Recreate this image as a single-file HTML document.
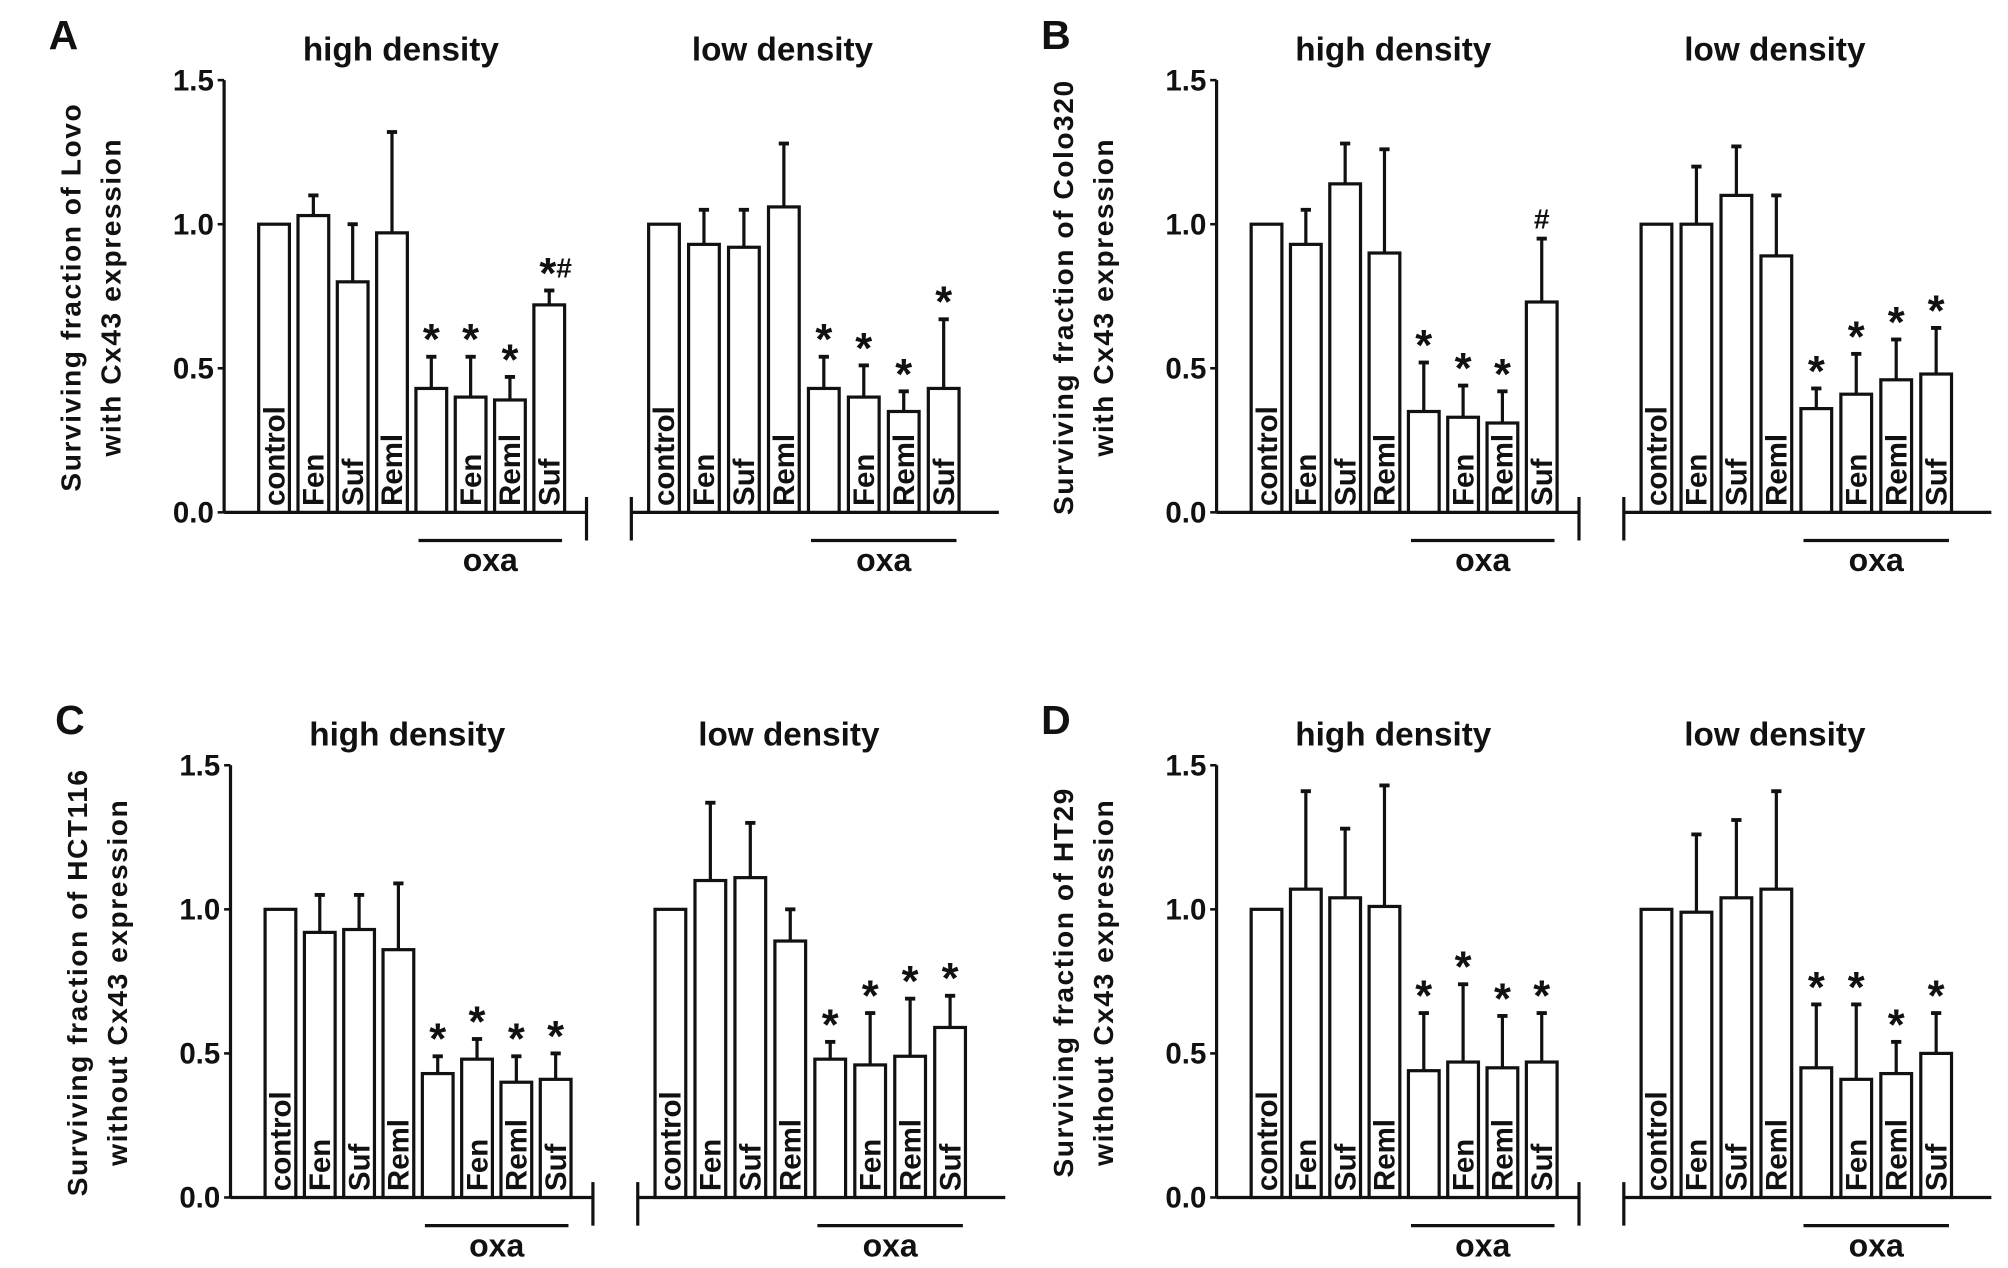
<!DOCTYPE html>
<html><head><meta charset="utf-8"><style>
html,body{margin:0;padding:0;background:#fff}
svg{display:block}
text{font-family:"Liberation Sans Narrow","Liberation Sans",sans-serif;font-weight:bold;fill:#111}
</style></head><body>
<svg id="chart" width="2008" height="1268" viewBox="0 0 1568 990" xmlns="http://www.w3.org/2000/svg"></svg>
<script>
const categories = ["control","Fen","Suf","Reml","","Fen","Reml","Suf"];
const yTicks = [0.0, 0.5, 1.0, 1.5];
const yTickLabels = ["0.0","0.5","1.0","1.5"];
const panelLetters = ["A","B","C","D"];
const yLabels1 = ["Surviving fraction of Lovo","Surviving fraction of Colo320","Surviving fraction of HCT116","Surviving fraction of HT29"];
const yLabels2 = ["with Cx43 expression","with Cx43 expression","without Cx43 expression","without Cx43 expression"];
const subTitles = ["high density","low density"];
const aHighMean = [1.0,1.03,0.80,0.97,0.43,0.40,0.39,0.72];
const aHighTop  = [1.0,1.10,1.0,1.32,0.54,0.54,0.47,0.77];
const aLowMean  = [1.0,0.93,0.92,1.06,0.43,0.40,0.35,0.43];
const aLowTop   = [1.0,1.05,1.05,1.28,0.54,0.51,0.42,0.67];
const bHighMean = [1.0,0.93,1.14,0.90,0.35,0.33,0.31,0.73];
const bHighTop  = [1.0,1.05,1.28,1.26,0.52,0.44,0.42,0.95];
const bLowMean  = [1.0,1.0,1.10,0.89,0.36,0.41,0.46,0.48];
const bLowTop   = [1.0,1.20,1.27,1.10,0.43,0.55,0.60,0.64];
const cHighMean = [1.0,0.92,0.93,0.86,0.43,0.48,0.40,0.41];
const cHighTop  = [1.0,1.05,1.05,1.09,0.49,0.55,0.49,0.50];
const cLowMean  = [1.0,1.10,1.11,0.89,0.48,0.46,0.49,0.59];
const cLowTop   = [1.0,1.37,1.30,1.00,0.54,0.64,0.69,0.70];
const dHighMean = [1.0,1.07,1.04,1.01,0.44,0.47,0.45,0.47];
const dHighTop  = [1.0,1.41,1.28,1.43,0.64,0.74,0.63,0.64];
const dLowMean  = [1.0,0.99,1.04,1.07,0.45,0.41,0.43,0.50];
const dLowTop   = [1.0,1.26,1.31,1.41,0.67,0.67,0.54,0.64];
const aHighMarks = ["","","","","*","*","*","*#"];
const aLowMarks  = ["","","","","*","*","*","*"];
const bHighMarks = ["","","","","*","*","*","#"];
const stdMarks   = ["","","","","*","*","*","*"];

const NS="http://www.w3.org/2000/svg";
const svg=document.getElementById('chart');
function mk(tag,attrs,parent){const e=document.createElementNS(NS,tag);for(const k in attrs)e.setAttribute(k,attrs[k]);(parent||svg).appendChild(e);return e;}

const panels=[
 {x0:175,y0:400,sets:[[aHighMean,aHighTop,aHighMarks],[aLowMean,aLowTop,aLowMarks]]},
 {x0:950,y0:400,sets:[[bHighMean,bHighTop,bHighMarks],[bLowMean,bLowTop,stdMarks]]},
 {x0:180,y0:935,sets:[[cHighMean,cHighTop,stdMarks],[cLowMean,cLowTop,stdMarks]]},
 {x0:950,y0:935,sets:[[dHighMean,dHighTop,stdMarks],[dLowMean,dLowTop,stdMarks]]}
];
const PXU=225;
panels.forEach((p,pi)=>{
  const g=mk('g',{});
  
  
  const ys=v=>p.y0-v*PXU;
  const x0=p.x0,y0=p.y0;
  const L=mk('text',{x:x0-137,y:y0-362,'font-size':32,'font-family':'Liberation Sans'},g);L.textContent=panelLetters[pi];
  
  
  const yl=mk('text',{transform:`translate(${x0-112},${y0-168}) rotate(-90)`,'text-anchor':'middle','font-size':22,'font-family':'Liberation Sans','letter-spacing':'1.2'},g);
  
  
  const t1=mk('tspan',{x:0,y:0},yl);t1.textContent=yLabels1[pi];
  const t2=mk('tspan',{x:0,y:31},yl);t2.textContent=yLabels2[pi];
  const ya=mk('line',{x1:x0,y1:ys(1.5),x2:x0,y2:y0,stroke:'#111','stroke-width':2.5},g);
  
  
  yTicks.forEach((v,i)=>{
    mk('line',{x1:x0-5,y1:ys(v),x2:x0,y2:ys(v),stroke:'#111','stroke-width':2},g);
    const t=mk('text',{x:x0-8,y:ys(v)+8,'text-anchor':'end','font-size':23},g);t.textContent=yTickLabels[i];
    
    
  });
  mk('line',{x1:x0,y1:y0,x2:x0+283,y2:y0,stroke:'#111','stroke-width':2.5},g);
  mk('line',{x1:x0+283,y1:y0-12,x2:x0+283,y2:y0+22,stroke:'#111','stroke-width':2.5},g);
  mk('line',{x1:x0+318,y1:y0-12,x2:x0+318,y2:y0+22,stroke:'#111','stroke-width':2.5},g);
  mk('line',{x1:x0+318,y1:y0,x2:x0+605,y2:y0,stroke:'#111','stroke-width':2.5},g);
  p.sets.forEach((s,si)=>{
    const [mean,top,marks]=s;
    const start= si===0 ? 39 : 343.5;
    const step= si===0 ? 30.7 : 31.2;
    const tt=mk('text',{x:x0+(si===0?138:436),y:y0-353,'text-anchor':'middle','font-size':26},g);tt.textContent=subTitles[si];
    
    
    mean.forEach((v,i)=>{
      const cx=x0+start+step*i, w=24;
      if(top[i]>v){
        mk('line',{x1:cx,y1:ys(v),x2:cx,y2:ys(top[i]),stroke:'#111','stroke-width':2.5},g);
        mk('line',{x1:cx-4,y1:ys(top[i]),x2:cx+4,y2:ys(top[i]),stroke:'#111','stroke-width':3},g);
      }
      const r=mk('rect',{x:cx-w/2,y:ys(v),width:w,height:v*PXU,fill:'#fff',stroke:'#111','stroke-width':2.5},g);
      
      
      if(categories[i]){
        const lt=mk('text',{transform:`translate(${cx+8},${y0-5}) rotate(-90)`,'font-size':23},g);lt.textContent=categories[i];
        
        
      }
      if(marks[i]){
        const isHash=marks[i]==='#';
        const m=mk('text',{x:cx+(marks[i]==='*#'?5:0),y:ys(top[i])-(isHash?8:2),'text-anchor':'middle','font-size':isHash?22:34,'font-family':'Liberation Sans'},g);
        if(marks[i]==='*#'){const a=mk('tspan',{},m);a.textContent='*';const b=mk('tspan',{'font-size':22,dy:-8},m);b.textContent='#';}
        else m.textContent=marks[i];
        
        
      }
    });
    const ox1=x0+start+step*4-10, ox2=x0+start+step*7+10;
    const ol=mk('line',{x1:ox1,y1:y0+22,x2:ox2,y2:y0+22,stroke:'#111','stroke-width':2.5},g);
    
    
    const ot=mk('text',{x:(ox1+ox2)/2,y:y0+46,'text-anchor':'middle','font-size':25},g);ot.textContent='oxa';
    
    
  });
});
</script>
</body></html>
